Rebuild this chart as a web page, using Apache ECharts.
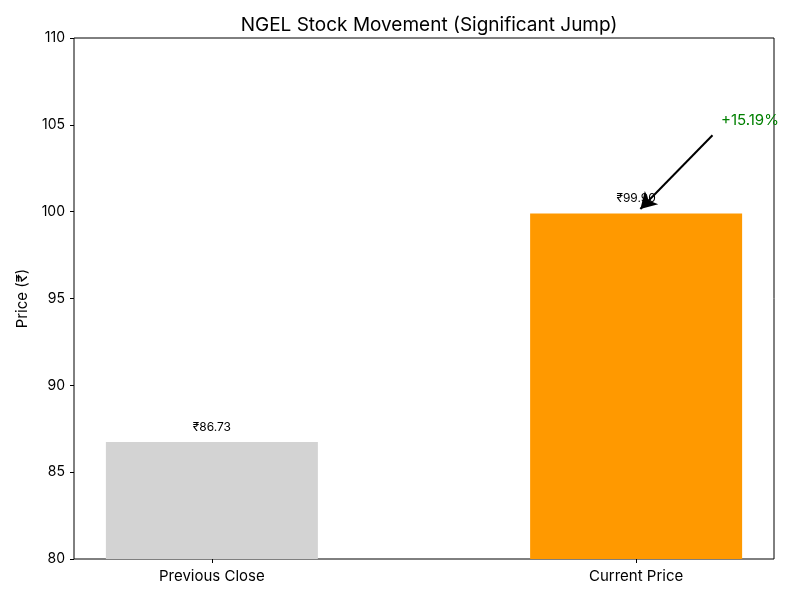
<!DOCTYPE html>
<html><head><meta charset="utf-8">
<script src="https://cdn.jsdelivr.net/npm/echarts@6/dist/echarts.min.js"></script>
<style>html,body{margin:0;padding:0;background:#fff}#c{width:800px;height:600px}</style>
</head><body><div id="c"></div>
<script>
const categories = ['Previous Close', 'Current Price'];
const prices = [86.73, 99.90];
const barColors = ['#D3D3D3', '#FF9900'];
const yTicks = [80, 85, 90, 95, 100, 105, 110];
const changeLabel = '+15.19%';
const arrowFrom = [1.18, 104.4];
const arrowTo = [1.01, 100.15];
const changeTextPos = [1.2, 105];

const FONT = 'Inter, "Noto Sans", sans-serif';
const chart = echarts.init(document.getElementById('c'));
chart.setOption({
  animation: false,
  title: {text: 'NGEL Stock Movement (Significant Jump)', left: 424, top: 11, textAlign: 'center',
    textStyle: {fontFamily: FONT, fontSize: 19, fontWeight: 'normal', color: '#000'}},
  grid: {left: 74, right: 26, top: 38, bottom: 41, show: true, borderColor: '#000', borderWidth: 1, backgroundColor: 'transparent'},
  xAxis: {type: 'value', min: -0.325, max: 1.325,
    axisLine: {show: false, onZero: false}, splitLine: {show: false},
    axisTick: {show: true, customValues: [0, 1], length: 4, lineStyle: {color: '#000'}},
    axisLabel: {customValues: [0, 1], formatter: v => categories[Math.round(v)], margin: 10,
      fontFamily: FONT, fontSize: 15, color: '#000'}},
  yAxis: {type: 'value', min: 80, max: 110, interval: 5,
    name: 'Price (₹)', nameLocation: 'middle', nameGap: 44, nameRotate: 90,
    nameTextStyle: {fontFamily: FONT, fontSize: 15, color: '#000'},
    axisLine: {show: false, onZero: false}, splitLine: {show: false},
    axisTick: {show: true, length: 4, lineStyle: {color: '#000'}},
    axisLabel: {margin: 9, fontFamily: FONT, fontSize: 14, color: '#000',
      customValues: yTicks}},
  series: [{
    type: 'bar', barWidth: 212,
    data: prices.map((p, i) => ({value: [i, p], itemStyle: {color: barColors[i]}})),
    label: {show: true, position: 'top', distance: 9, formatter: p => '₹' + p.value[1].toFixed(2),
      fontFamily: FONT, fontSize: 12, color: '#000'},
    markLine: {silent: true, symbol: ['none', 'arrow'], symbolSize: [14, 16],
      lineStyle: {color: '#000', width: 2, type: 'solid'}, label: {show: false},
      data: [[{coord: arrowFrom}, {coord: arrowTo}]]},
    markPoint: {silent: true, symbol: 'circle', symbolSize: 0,
      data: [{coord: changeTextPos, label: {show: true, position: 'inside', formatter: changeLabel,
        align: 'left', verticalAlign: 'bottom', offset: [0, 3],
        fontFamily: FONT, fontSize: 15, color: '#008000'}}]}
  }]
});
</script></body></html>
